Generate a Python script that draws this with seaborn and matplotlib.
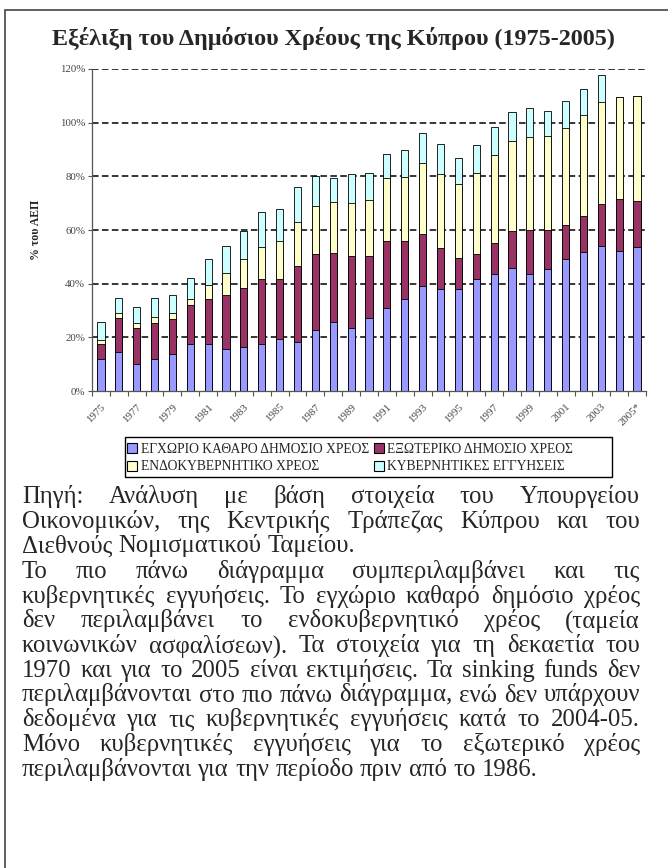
import numpy as np
import pandas as pd
import matplotlib
matplotlib.use('Agg')
import matplotlib.pyplot as plt
from matplotlib.patches import Patch, Rectangle
import seaborn as sns

# Data (% of GDP)
years = [str(y) for y in range(1975, 2005)] + ['2005*']
domestic_net = [11.8, 14.4, 10.1, 12.0, 13.8, 17.5, 17.6, 15.7, 16.5, 17.4, 19.4,
                18.4, 22.6, 25.6, 23.4, 27.2, 30.8, 34.4, 39.0, 38.0, 37.9, 41.6,
                43.7, 45.7, 43.5, 45.3, 49.2, 51.8, 53.9, 52.0, 53.5]
external = [5.6, 12.9, 13.4, 13.2, 12.9, 14.4, 16.6, 20.0, 22.0, 24.5, 22.2,
            28.3, 28.3, 25.8, 26.8, 23.0, 25.0, 21.4, 19.4, 15.4, 11.7, 9.3,
            11.5, 13.8, 16.4, 14.6, 12.7, 13.4, 15.7, 19.6, 17.4]
intragov = [1.6, 1.6, 2.0, 2.3, 2.2, 2.4, 5.2, 8.2, 10.6, 11.9, 14.3,
            16.2, 18.0, 18.9, 20.0, 20.9, 23.5, 24.0, 26.4, 27.5, 27.7, 30.5,
            32.6, 33.7, 34.8, 35.1, 36.1, 37.7, 38.2, 38.1, 39.1]
guarantees = [6.8, 5.9, 5.7, 7.3, 7.0, 7.7, 9.7, 10.3, 10.5, 12.8, 12.0,
              13.2, 11.3, 9.2, 10.5, 10.0, 8.9, 10.1, 11.5, 11.0, 9.7, 10.4,
              10.5, 10.7, 10.6, 9.5, 10.2, 9.6, 9.8, 0.0, 0.0]

series_names = ['ΕΓΧΩΡΙΟ ΚΑΘΑΡΟ ΔΗΜΟΣΙΟ ΧΡΕΟΣ', 'ΕΞΩΤΕΡΙΚΟ ΔΗΜΟΣΙΟ ΧΡΕΟΣ',
                'ΕΝΔΟΚΥΒΕΡΝΗΤΙΚΟ ΧΡΕΟΣ', 'ΚΥΒΕΡΝΗΤΙΚΕΣ ΕΓΓΥΗΣΕΙΣ']
colors = ['#9999FF', '#993366', '#FFFFCC', '#CCFFFF']

title = 'Εξέλιξη του Δημόσιου Χρέους της Κύπρου (1975-2005)'
ylabel = '% του ΑΕΠ'

para1 = ['Πηγή: Ανάλυση με βάση στοιχεία του Υπουργείου',
         'Οικονομικών, της Κεντρικής Τράπεζας Κύπρου και του',
         'Διεθνούς Νομισματικού Ταμείου.']
para2 = ['Το πιο πάνω διάγραμμα συμπεριλαμβάνει και τις',
         'κυβερνητικές εγγυήσεις. Το εγχώριο καθαρό δημόσιο χρέος',
         'δεν περιλαμβάνει το ενδοκυβερνητικό χρέος (ταμεία',
         'κοινωνικών ασφαλίσεων). Τα στοιχεία για τη δεκαετία του',
         '1970 και για το 2005 είναι εκτιμήσεις. Τα sinking funds δεν',
         'περιλαμβάνονται στο πιο πάνω διάγραμμα, ενώ δεν υπάρχουν',
         'δεδομένα για τις κυβερνητικές εγγυήσεις κατά το 2004-05.',
         'Μόνο κυβερνητικές εγγυήσεις για το εξωτερικό χρέος',
         'περιλαμβάνονται για την περίοδο πριν από το 1986.']

df = pd.DataFrame({'year': years, 'domestic': domestic_net, 'external': external,
                   'intragov': intragov, 'guarantees': guarantees})
layers = ['domestic', 'external', 'intragov', 'guarantees']
cum = df[layers].cumsum(axis=1)

sns.set_theme(style='white')
plt.rcParams['font.family'] = ['Liberation Serif', 'DejaVu Serif']

W, H = 668, 868
fig = plt.figure(figsize=(W / 100, H / 100), dpi=100)


def fx(px):
    return px / W


def fy(py):
    return 1 - py / H


# outer frame
fig.add_artist(Rectangle((fx(5), fy(870)), fx(670) - fx(5), fy(10) - fy(870),
                         transform=fig.transFigure, fill=False, ec='#444444', lw=1.2))

fig.text(fx(333), fy(38), title, ha='center', va='center', fontsize=17.4, fontweight='bold')

ax = fig.add_axes([fx(92), fy(391), fx(646) - fx(92), fy(69) - fy(391)])

# stacked bars: draw cumulative totals from top layer down
for layer, col in zip(reversed(layers), reversed(colors)):
    sns.barplot(x=df['year'], y=cum[layer], color=col, saturation=1, width=0.4,
                edgecolor='black', linewidth=0.6, errorbar=None, ax=ax)

ax.set_ylim(0, 120)
ax.set_xlim(-0.5, len(years) - 0.5)
for v in range(20, 121, 20):
    ax.axhline(v, color='black', lw=1.1, ls=(0, (4.3, 2.2)), zorder=0.5)
ax.set_axisbelow(False)

ax.set_yticks(range(0, 121, 20))
ax.set_yticklabels([f'{v}%' for v in range(0, 121, 20)], fontsize=7.8, color='#444444')
ax.tick_params(axis='y', direction='out', length=3, width=0.8, color='#555555', left=True, pad=2)

ax.set_xticks(range(0, len(years), 2))
ax.set_xticklabels(years[::2], rotation=45, ha='right', rotation_mode='anchor',
                   fontsize=7.8, color='#444444')
ax.set_xticks(np.arange(-0.5, len(years), 1), minor=True)
ax.tick_params(axis='x', which='major', length=0, pad=8)
ax.tick_params(axis='x', which='minor', direction='out', length=3.5, width=0.8,
               color='#555555', bottom=True)
ax.set_xlabel('')
ax.set_ylabel(ylabel, fontsize=8.5, fontweight='bold', labelpad=13)

for s in ['top', 'right']:
    ax.spines[s].set_visible(False)
for s in ['left', 'bottom']:
    ax.spines[s].set_color('#555555')
    ax.spines[s].set_linewidth(0.9)

# legend: frameless entries, box drawn separately
handles = [Patch(facecolor=c, edgecolor='black', lw=0.8) for c in colors]
order = [0, 2, 1, 3]
fig.legend([handles[i] for i in order], [series_names[i] for i in order],
           ncol=2, loc='center left', bbox_to_anchor=(fx(127), fy(458)),
           fontsize=9.8, frameon=False,
           handlelength=0.75, handleheight=0.75, handletextpad=0.25,
           borderpad=0, labelspacing=0.35, columnspacing=0.35, borderaxespad=0)
fig.add_artist(Rectangle((fx(125), fy(477)), fx(612) - fx(125), fy(437) - fy(477),
                         transform=fig.transFigure, fill=False, ec='black', lw=1.0))

# justified paragraphs
renderer = fig.canvas.get_renderer()
left, right = 22, 640
fs = 17.8


def put_line(line, y, justify):
    words = line.split(' ')
    arts = [fig.text(0, fy(y), w, fontsize=fs, ha='left', va='baseline') for w in words]
    widths = [a.get_window_extent(renderer).width for a in arts]
    if justify and len(words) > 1:
        gap = (right - left - sum(widths)) / (len(words) - 1)
    else:
        gap = fs * 100 / 72 * 0.25
    x = left
    for a, w in zip(arts, widths):
        a.set_x(fx(x))
        x += w + gap


y0 = 503
for i, line in enumerate(para1):
    put_line(line, y0 + i * 24.6, i < len(para1) - 1)
y0 = 578
for i, line in enumerate(para2):
    put_line(line, y0 + i * 24.7, i < len(para2) - 1)

fig.savefig('out.png', dpi=100)
